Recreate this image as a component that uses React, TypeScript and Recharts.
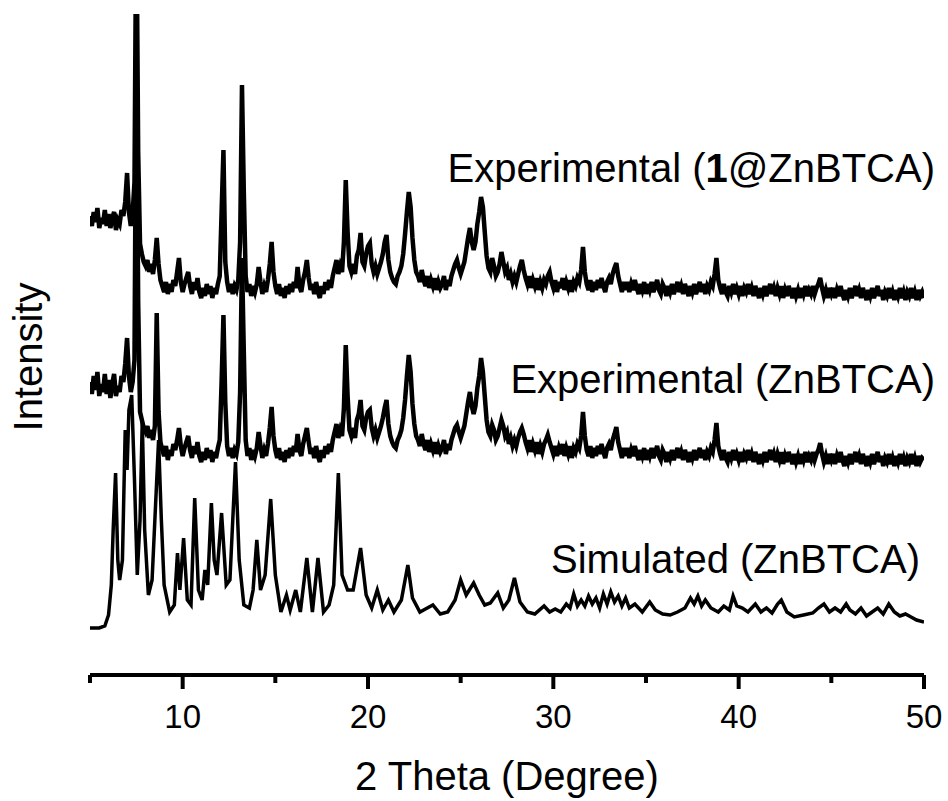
import { LineChart, Line, XAxis, YAxis } from "recharts";

// experimental scans: one reading every 0.1° from 5° to 50°
const scanStart = 5;
const scanStep = 0.1;

// Experimental (1@ZnBTCA), stacked intensity (a.u.), one row per degree
const expComposite = [
  496, 486, 500, 490, 504, 484, 494, 488, 502, 486, // 5
  498, 484, 494, 500, 482, 492, 488, 502, 496, 510, // 6
  539, 500, 486, 498, 530, 812, 560, 468, 458, 450, // 7
  446, 452, 440, 448, 438, 452, 474, 448, 432, 426, // 8
  420, 430, 418, 428, 420, 432, 426, 440, 454, 430, // 9
  420, 428, 434, 440, 426, 418, 430, 422, 434, 420, // 10
  414, 424, 416, 428, 418, 426, 414, 424, 418, 428, // 11
  436, 500, 562, 450, 430, 420, 428, 418, 426, 422, // 12
  432, 470, 627, 520, 436, 420, 428, 416, 426, 420, // 13
  428, 445, 430, 418, 426, 420, 432, 448, 470, 440, // 14
  426, 418, 428, 416, 424, 414, 426, 418, 428, 420, // 15
  430, 424, 445, 426, 420, 432, 440, 452, 434, 422, // 16
  428, 418, 430, 420, 414, 426, 418, 430, 422, 432, // 17
  424, 436, 444, 452, 438, 446, 440, 470, 532, 480, // 18
  446, 440, 448, 438, 456, 462, 479, 450, 446, 458, // 19
  466, 469, 448, 440, 446, 438, 444, 450, 458, 470, // 20
  477, 452, 440, 434, 430, 428, 436, 440, 446, 458, // 21
  478, 500, 520, 505, 474, 452, 440, 436, 430, 442, // 22
  432, 426, 436, 424, 432, 426, 434, 422, 430, 424, // 23
  428, 436, 422, 432, 426, 436, 442, 448, 452, 444, // 24
  438, 444, 450, 462, 474, 484, 470, 462, 470, 488, // 25
  500, 515, 505, 480, 456, 444, 440, 454, 446, 436, // 26
  440, 448, 460, 450, 440, 444, 432, 438, 430, 436, // 27
  430, 438, 446, 452, 442, 434, 428, 436, 424, 432, // 28
  426, 434, 422, 430, 424, 432, 428, 436, 440, 430, // 29
  424, 432, 420, 430, 424, 434, 422, 430, 424, 432, // 30
  420, 430, 426, 434, 430, 442, 465, 440, 428, 422, // 31
  432, 420, 430, 422, 432, 424, 434, 426, 420, 430, // 32
  434, 428, 438, 444, 449, 436, 428, 420, 430, 422, // 33
  430, 420, 428, 422, 432, 424, 418, 428, 422, 430, // 34
  418, 428, 422, 430, 420, 426, 432, 422, 418, 428, // 35
  424, 416, 426, 420, 428, 418, 424, 430, 420, 426, // 36
  418, 428, 422, 416, 426, 420, 428, 418, 424, 430, // 37
  420, 428, 418, 426, 422, 430, 426, 438, 454, 432, // 38
  424, 418, 428, 420, 416, 426, 420, 428, 418, 424, // 39
  418, 426, 416, 424, 420, 428, 418, 424, 416, 426, // 40
  420, 414, 424, 418, 426, 416, 422, 428, 418, 424, // 41
  416, 424, 418, 426, 414, 422, 416, 426, 420, 414, // 42
  424, 416, 422, 414, 424, 418, 426, 416, 422, 418, // 43
  426, 418, 424, 428, 434, 424, 416, 422, 414, 424, // 44
  418, 424, 414, 422, 416, 426, 418, 412, 422, 416, // 45
  424, 414, 420, 426, 416, 422, 414, 424, 418, 412, // 46
  422, 416, 424, 414, 420, 426, 416, 422, 412, 420, // 47
  416, 424, 414, 420, 412, 422, 416, 424, 414, 420, // 48
  412, 420, 416, 424, 414, 420, 412, 422, 416, 420, // 49
  414, // 50
];

// Experimental (ZnBTCA), stacked intensity (a.u.), one row per degree
const expHost = [
  330, 318, 336, 322, 340, 316, 328, 320, 338, 318, // 5
  332, 314, 328, 338, 316, 326, 320, 336, 330, 348, // 6
  374, 336, 320, 330, 352, 672, 410, 300, 292, 284, // 7
  280, 286, 274, 282, 272, 286, 399, 300, 270, 262, // 8
  256, 266, 252, 262, 256, 268, 262, 272, 284, 266, // 9
  256, 264, 270, 276, 262, 254, 266, 258, 270, 256, // 10
  250, 260, 252, 264, 254, 262, 250, 260, 254, 264, // 11
  272, 330, 397, 310, 266, 256, 264, 254, 262, 258, // 12
  270, 320, 454, 360, 272, 256, 264, 252, 262, 256, // 13
  264, 280, 266, 254, 262, 256, 268, 284, 305, 276, // 14
  262, 254, 264, 252, 260, 250, 262, 254, 264, 256, // 15
  266, 260, 278, 262, 256, 268, 276, 284, 270, 258, // 16
  264, 254, 266, 256, 250, 262, 254, 266, 258, 268, // 17
  260, 272, 280, 288, 274, 282, 276, 304, 367, 316, // 18
  282, 276, 284, 274, 292, 298, 312, 286, 282, 294, // 19
  300, 302, 284, 276, 282, 274, 280, 286, 294, 304, // 20
  312, 288, 276, 270, 266, 264, 272, 276, 282, 294, // 21
  312, 336, 357, 340, 308, 288, 276, 272, 266, 278, // 22
  268, 262, 272, 260, 268, 262, 270, 258, 266, 260, // 23
  264, 272, 258, 268, 262, 272, 278, 284, 287, 280, // 24
  274, 280, 286, 298, 310, 320, 306, 298, 306, 324, // 25
  336, 354, 340, 316, 292, 280, 276, 287, 282, 272, // 26
  276, 284, 292, 286, 276, 280, 268, 274, 266, 272, // 27
  266, 274, 280, 284, 278, 270, 264, 272, 260, 268, // 28
  262, 270, 258, 266, 260, 268, 272, 277, 270, 264, // 29
  258, 266, 256, 264, 258, 268, 256, 264, 258, 266, // 30
  254, 264, 260, 268, 264, 276, 300, 276, 262, 256, // 31
  266, 254, 264, 256, 266, 258, 268, 260, 254, 264, // 32
  268, 262, 272, 278, 285, 270, 262, 254, 264, 256, // 33
  264, 254, 262, 256, 266, 258, 252, 262, 256, 264, // 34
  252, 262, 256, 264, 254, 260, 266, 256, 252, 262, // 35
  258, 250, 260, 254, 262, 252, 258, 264, 254, 260, // 36
  252, 262, 256, 250, 260, 254, 262, 252, 258, 264, // 37
  254, 262, 252, 260, 256, 264, 260, 272, 289, 266, // 38
  258, 252, 262, 254, 250, 260, 254, 262, 252, 258, // 39
  252, 260, 250, 258, 254, 262, 252, 258, 250, 260, // 40
  254, 248, 258, 252, 260, 250, 256, 262, 252, 258, // 41
  250, 258, 252, 260, 248, 256, 250, 260, 254, 248, // 42
  258, 250, 256, 248, 258, 252, 260, 250, 256, 252, // 43
  260, 252, 258, 262, 269, 258, 250, 256, 248, 258, // 44
  252, 258, 248, 256, 250, 260, 252, 246, 256, 250, // 45
  258, 248, 254, 260, 250, 256, 248, 258, 252, 246, // 46
  256, 250, 258, 248, 254, 260, 250, 256, 246, 254, // 47
  250, 258, 248, 254, 246, 256, 250, 258, 248, 254, // 48
  246, 254, 250, 258, 248, 254, 246, 256, 250, 254, // 49
  252, // 50
];

// Simulated (ZnBTCA): [2θ, intensity]
const simHost: [number, number][] = [
  [5.0, 84], [5.5, 84], [5.8, 86], [6.0, 97], [6.15, 127], [6.25, 182], [6.38, 239],
  [6.5, 152], [6.6, 132], [6.75, 152], [6.9, 282], [7.0, 242], [7.1, 302], [7.25, 317],
  [7.4, 232], [7.55, 137], [7.7, 192], [7.82, 292], [7.95, 182], [8.15, 117], [8.35, 132],
  [8.55, 212], [8.7, 272], [8.85, 192], [9.0, 127], [9.3, 100], [9.55, 107], [9.72, 159],
  [9.85, 122], [10.05, 174], [10.25, 112], [10.45, 107], [10.65, 214], [10.85, 122],
  [11.05, 112], [11.2, 142], [11.35, 127], [11.55, 209], [11.7, 152], [11.85, 137],
  [12.1, 199], [12.35, 127], [12.55, 132], [12.85, 250], [13.05, 152], [13.3, 107],
  [13.6, 104], [13.8, 122], [14.0, 172], [14.2, 122], [14.45, 137], [14.75, 213],
  [15.0, 137], [15.3, 100], [15.6, 117], [15.8, 102], [16.1, 122], [16.35, 100],
  [16.7, 154], [17.0, 100], [17.3, 154], [17.6, 100], [17.9, 107], [18.15, 127],
  [18.4, 239], [18.6, 137], [18.9, 122], [19.2, 122], [19.6, 164], [19.9, 117],
  [20.2, 104], [20.5, 122], [20.8, 102], [21.1, 112], [21.4, 100], [21.8, 112],
  [22.15, 147], [22.4, 114], [22.8, 100], [23.2, 104], [23.5, 107], [23.9, 98],
  [24.3, 100], [24.7, 112], [25.0, 132], [25.3, 117], [25.7, 129], [26.0, 117],
  [26.3, 107], [26.6, 109], [27.0, 119], [27.3, 104], [27.6, 112], [27.9, 134],
  [28.2, 110], [28.6, 100], [29.0, 98], [29.5, 106], [29.8, 100], [30.1, 103],
  [30.4, 100], [30.7, 108], [30.9, 104], [31.1, 118], [31.3, 106], [31.5, 112],
  [31.7, 106], [31.9, 116], [32.1, 108], [32.3, 114], [32.5, 104], [32.7, 118],
  [32.9, 108], [33.1, 120], [33.3, 110], [33.5, 116], [33.7, 106], [33.9, 114],
  [34.1, 104], [34.4, 108], [34.8, 100], [35.2, 110], [35.5, 102], [35.9, 98],
  [36.3, 97], [36.7, 100], [37.1, 104], [37.4, 114], [37.6, 108], [37.8, 116],
  [38.0, 106], [38.2, 112], [38.5, 104], [38.9, 100], [39.2, 106], [39.5, 102],
  [39.7, 116], [39.9, 106], [40.2, 104], [40.5, 100], [40.9, 108], [41.2, 100],
  [41.5, 104], [41.8, 99], [42.1, 108], [42.3, 112], [42.6, 100], [43.0, 95],
  [43.5, 97], [44.0, 99], [44.3, 104], [44.6, 108], [44.9, 100], [45.2, 104],
  [45.5, 100], [45.8, 108], [46.0, 102], [46.3, 98], [46.6, 104], [46.9, 96],
  [47.2, 100], [47.5, 104], [47.8, 98], [48.1, 108], [48.4, 100], [48.7, 96],
  [49.0, 98], [49.3, 95], [49.6, 92], [50.0, 90],
];

const xTicks = [5, 10, 15, 20, 25, 30, 35, 40, 45, 50];

const font = '"Liberation Sans", Arial, sans-serif';

const toRows = (vals: number[]) =>
  vals.map((v, i) => ({ x: +(scanStart + i * scanStep).toFixed(1), y: v }));

const compositeRows = toRows(expComposite);
const hostRows = toRows(expHost);
const simRows = simHost.map(([x, y]) => ({ x, y }));

function XTick(props: any) {
  const { x, y, payload } = props;
  const major = payload.value % 10 === 0;
  return (
    <g>
      <line x1={x} x2={x} y1={y} y2={y + (major ? 14 : 8)} stroke="#000" strokeWidth={4} />
      {major && (
        <text x={x} y={y + 53} textAnchor="middle" fontSize={33} fontFamily={font} fill="#000">
          {payload.value}
        </text>
      )}
    </g>
  );
}

export default function App() {
  return (
    <div style={{ position: "absolute", left: 0, top: 0, width: 948, height: 801, background: "#fff" }}>
      <LineChart width={948} height={801} margin={{ top: 14, right: 24, bottom: 0, left: 90 }}>
        <XAxis
          type="number"
          dataKey="x"
          domain={[5, 50]}
          ticks={xTicks}
          allowDataOverflow
          height={126}
          tickSize={0}
          tickMargin={0}
          tickLine={false}
          tick={<XTick />}
          axisLine={{ stroke: "#000", strokeWidth: 4 }}
        />
        <YAxis
          type="number"
          domain={[37, 698]}
          allowDataOverflow
          width={0}
          tick={false}
          tickLine={false}
          axisLine={{ stroke: "#000", strokeWidth: 4 }}
        />
        <Line data={simRows} dataKey="y" type="linear" stroke="#000" strokeWidth={3.5} dot={false} isAnimationActive={false} />
        <Line data={hostRows} dataKey="y" type="linear" stroke="#000" strokeWidth={4.5} dot={false} isAnimationActive={false} />
        <Line data={compositeRows} dataKey="y" type="linear" stroke="#000" strokeWidth={4.5} dot={false} isAnimationActive={false} />
      </LineChart>
      <svg width={948} height={801} style={{ position: "absolute", left: 0, top: 0, pointerEvents: "none" }}>
        <g fontFamily={font} fill="#000" fontSize={40}>
          <text x={935} y={182} textAnchor="end">
            Experimental (<tspan fontWeight="bold">1</tspan>@ZnBTCA)
          </text>
          <text x={935} y={393} textAnchor="end">Experimental (ZnBTCA)</text>
          <text x={920} y={573} textAnchor="end">Simulated (ZnBTCA)</text>
          <text x={507} y={790} textAnchor="middle">2 Theta (Degree)</text>
          <text x={42} y={357} textAnchor="middle" transform="rotate(-90, 42, 357)">Intensity</text>
        </g>
      </svg>
    </div>
  );
}
